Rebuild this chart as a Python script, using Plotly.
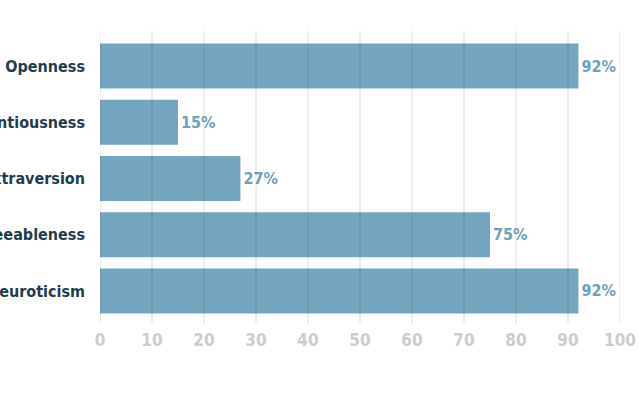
import plotly.graph_objects as go

categories = ["Openness", "Conscientiousness", "Extraversion", "Agreeableness", "Neuroticism"]
values = [92, 15, 27, 75, 92]
tick_vals = [0, 10, 20, 30, 40, 50, 60, 70, 80, 90, 100]

FONT = "DejaVu Sans Condensed"

fig = go.Figure(go.Bar(
    x=values,
    y=categories,
    orientation="h",
    marker=dict(color="#73a5be", line=dict(width=0)),
    text=[f"{v}%" for v in values],
    textposition="outside",
    textfont=dict(family=FONT, size=16, color="#6f9fba", weight="bold"),
    cliponaxis=False,
))

# grid lines drawn above the bars (they show through in the reference)
for v in tick_vals:
    fig.add_shape(
        type="line", xref="x", yref="paper",
        x0=v, x1=v, y0=-0.016, y1=1.025,
        line=dict(color="rgba(0,0,0,0.09)", width=1.5),
        layer="above",
    )

fig.update_layout(
    width=640, height=396,
    margin=dict(l=100, r=20, t=38, b=77),
    paper_bgcolor="white",
    plot_bgcolor="white",
    bargap=0.2,
    showlegend=False,
    font=dict(family=FONT),
)
fig.update_xaxes(
    range=[0, 100],
    tickvals=tick_vals,
    showgrid=False,
    zeroline=False,
    ticks="outside", ticklen=6, tickcolor="rgba(0,0,0,0)",
    tickfont=dict(family=FONT, size=17, color="#cccccc", weight="bold"),
    showline=False,
    automargin=False,
)
fig.update_yaxes(
    categoryorder="array", categoryarray=categories[::-1],
    tickfont=dict(family=FONT, size=16, color="#1f3d4c", weight="bold"),
    ticklabelstandoff=14,
    showgrid=False, showline=False, ticks="",
    automargin=False,
)

fig.write_html("out.html", config={"displayModeBar": False},
               post_script="document.body.style.margin='0px';")
